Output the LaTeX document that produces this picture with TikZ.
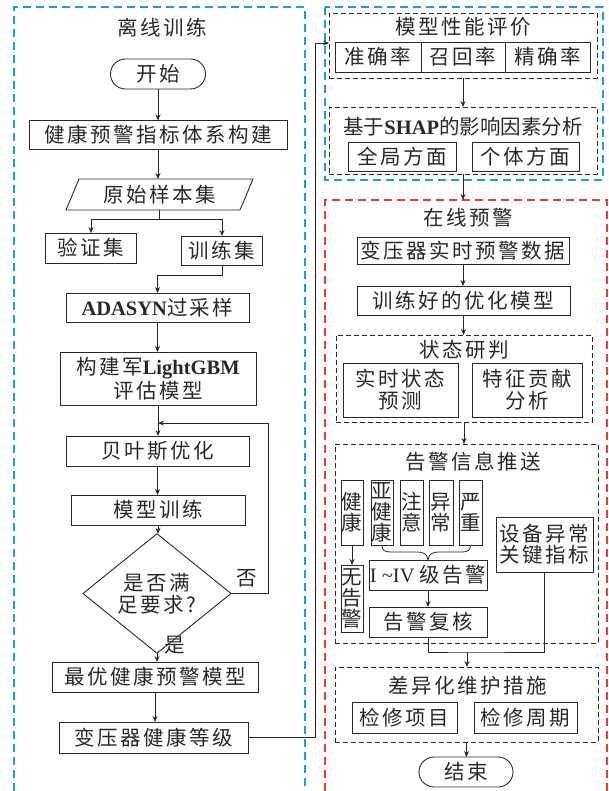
\documentclass[tikz,border=0pt]{standalone}
\usepackage{fontspec}
\newfontfamily\zh[LetterSpace=12]{Noto Sans CJK SC}
\newfontfamily\zhv{Noto Sans CJK SC}
\newfontfamily\lat[BoldFont={Liberation Serif Bold}]{Liberation Serif}
\usetikzlibrary{arrows.meta,shapes.geometric,shapes.misc}
\definecolor{bluedash}{RGB}{35,155,215}
\definecolor{reddash}{RGB}{225,65,55}
\definecolor{linegray}{RGB}{40,40,40}
\begin{document}
\begin{tikzpicture}[x=1pt,y=-1pt,
  every node/.style={inner sep=0pt, outer sep=0pt, align=center, text=linegray,
    font=\fontsize{20.5}{24}\selectfont\zh},
  sz/.style 2 args={minimum width=#1pt, minimum height=#2pt},
  box/.style={draw=linegray, line width=0.9pt},
  term/.style={box, rounded rectangle},
  vbox/.style={box, font=\fontsize{20.5}{21}\selectfont\zhv},
  dbox/.style={draw=linegray, line width=0.8pt, dash pattern=on 5pt off 3pt},
  bluebox/.style={draw=bluedash, line width=1.3pt, dash pattern=on 8pt off 5pt},
  redbox/.style={draw=reddash, line width=1.3pt, dash pattern=on 8pt off 5pt},
  arr/.style={draw=linegray, line width=0.8pt, -{Stealth[length=6pt,width=5pt]}},
  ln/.style={draw=linegray, line width=0.8pt}]
\useasboundingbox (0,0) rectangle (609,791);

% ---------------- left: offline training ----------------
\draw[bluebox] (14,791) -- (14,7) -- (305,7) -- (305,791);
\node (t1) at (162,28) {离线训练};
\node[term, sz={95}{30}] (start) at (158,74) {开始};
\node[box, sz={258}{29}] (b1) at (158,135) {健康预警指标体系构建};
\node[sz={174}{31}] (b2) at (159.5,194.5) {原始样本集};
\draw[box] ([xshift=-6.5pt]b2.south west) -- ([xshift=6.5pt]b2.north west)
  -- ([xshift=6.5pt]b2.north east) -- ([xshift=-6.5pt]b2.south east) -- cycle;
\node[box, sz={91}{30}] (yz) at (91,248) {验证集};
\node[box, sz={81}{29}] (xl) at (222,250.5) {训练集};
\node[box, sz={183}{29}] (ada) at (157.5,307.5) {{\lat\bfseries ADASYN}过采样};
\node[box, sz={196}{53}] (gbm) at (158,378.5) {构建军{\lat\bfseries LightGBM}\\评估模型};
\node[box, sz={183}{30}] (bayes) at (157.5,451) {贝叶斯优化};
\node[box, sz={174}{30}] (train) at (158,510) {模型训练};
\node[box, diamond, sz={148}{73}, font=\fontsize{20.5}{22}\selectfont\zh] (dia) at (157,593.5) {是否满\\足要求?};
\node[box, sz={206}{30}] (best) at (155,677) {最优健康预警模型};
\node[box, sz={189}{31}] (grade) at (153.5,737.5) {变压器健康等级};
\node (no) at (247,578) {否};
\node (yes) at (175,645) {是};

\draw[arr] (start.south) -- (start.south |- b1.north);
\draw[arr] (b1.south) -- (b1.south |- b2.north);
\path (b2.south) ++(0,9) coordinate (sp);
\draw[ln] (b2.south) -- (sp);
\draw[arr] (sp) -| (yz.north);
\draw[arr] (sp) -| (xl.north);
\path (xl.south) ++(0,10) coordinate (c1);
\draw[arr] (xl.south) -- (c1) -| (ada.north);
\draw[arr] (ada.south) -- (ada.south |- gbm.north);
\draw[arr] (gbm.south) -- (gbm.south |- bayes.north);
\draw[arr] (bayes.south) -- (bayes.south |- train.north);
\draw[arr] (train.south) -- (train.south |- dia.north);
\draw[arr] (dia.south) -- (dia.south |- best.north);
\draw[arr] (best.south) -- (best.south |- grade.north);
\coordinate (fb) at (268,423);
\draw[arr] (dia.east) -| (fb) -- (fb -| gbm.south);

% ---------------- right top: evaluation ----------------
\draw[bluebox] (325,7) rectangle (603,180);
\node[dbox, sz={268}{65}] (eval) at (463,45.5) {};
\node (evt) at (463,27) {模型性能评价};
\node[box, sz={86}{30}] (acc) at (378,57) {准确率};
\node[box, sz={84}{30}] (rec) at (463,57) {召回率};
\node[box, sz={85}{30}] (prec) at (547.5,57) {精确率};
\node[dbox, sz={268}{67}] (shap) at (463,140.5) {};
\node[font=\fontsize{20.5}{24}\selectfont\zhv] (shapt) at (463,127) {基于{\lat\bfseries SHAP}的影响因素分析};
\node[box, sz={108}{29}] (gq) at (402,156.5) {全局方面};
\node[box, sz={107}{29}] (gt) at (525.5,156.5) {个体方面};
\draw[arr] (eval.south) -- (eval.south |- shap.north);

\coordinate (lk) at (315,43);
\draw[arr] (grade.east) -| (lk) -- (lk -| eval.west);

% ---------------- right bottom: online warning ----------------
\draw[redbox] (325,791) -- (325,200) -- (607,200) -- (607,791);
\coordinate (rtop) at (462,200);
\draw[arr] (shap.south) -- (shap.south |- rtop);
\node (t2) at (468,218) {在线预警};
\node[box, sz={212}{27}] (rt) at (463,250.5) {变压器实时预警数据};
\node[box, sz={213}{29}] (opt) at (463.5,300.5) {训练好的优化模型};
\node[dbox, sz={256}{87}] (state) at (464,378.5) {};
\node (statet) at (464,350) {状态研判};
\node[box, sz={115}{54}, font=\fontsize{20.5}{22}\selectfont\zh] (ss) at (400.5,390) {实时状态\\预测};
\node[box, sz={110}{54}, font=\fontsize{20.5}{22}\selectfont\zh] (tz) at (527,390) {特征贡献\\分析};
\draw[arr] (rt.south) -- (rt.south |- opt.north);
\draw[arr] (opt.south) -- (opt.south |- state.north);

\node[dbox, sz={263}{199}] (alarm) at (466.5,543.5) {};
\draw[arr] (state.south) -- (state.south |- alarm.north);
\node (alarmt) at (473,462) {告警信息推送};
\node[vbox, sz={22}{65}] (jk) at (352,512.5) {健\\康};
\node[vbox, sz={22}{65}] (yjk) at (382,512.5) {亚\\健\\康};
\node[vbox, sz={23}{65}] (zy) at (411.5,512.5) {注\\意};
\node[vbox, sz={24}{65}] (yc) at (441,512.5) {异\\常};
\node[vbox, sz={23}{65}] (yzh) at (470.5,512.5) {严\\重};
\node[box, sz={118}{30}] (ij) at (428,575) {{\lat I\ \textasciitilde IV\ }级告警};
\node[box, sz={118}{30}] (fh) at (428,622) {告警复核};
\node[vbox, sz={22}{67}] (wgj) at (352,598.5) {无\\告\\警};
\node[box, sz={97}{55}, font=\fontsize{20.5}{21}\selectfont\zh] (sb) at (544.5,544.5) {设备异常\\关键指标};
\draw[ln] (yjk.south) .. controls (382,551) and (385,552) .. (392,552) -- (417,552)
  .. controls (424,552) and (427,554) .. (ij.north)
  .. controls (429,554) and (432,552) .. (439,552) -- (461,552)
  .. controls (468,552) and (470.5,550) .. (yzh.south);
\draw[arr] (jk.south) -- (wgj.north);
\draw[arr] (ij.south) -- (fh.north);

\node[dbox, sz={263}{75}] (cy) at (466.5,704.5) {};
\coordinate (m) at (467,652);
\draw[ln] (fh.south) |- (m) -| (sb.south);
\draw[arr] (m) -- (m |- cy.north);
\node (cyt) at (468,686) {差异化维护措施};
\node[box, sz={105}{31}] (jx) at (404.5,717.5) {检修项目};
\node[box, sz={103}{31}] (jz) at (525.5,717.5) {检修周期};
\node[term, sz={94}{30}] (end) at (466,772) {结束};
\draw[arr] (cy.south) -- (cy.south |- end.north);
\end{tikzpicture}
\end{document}
